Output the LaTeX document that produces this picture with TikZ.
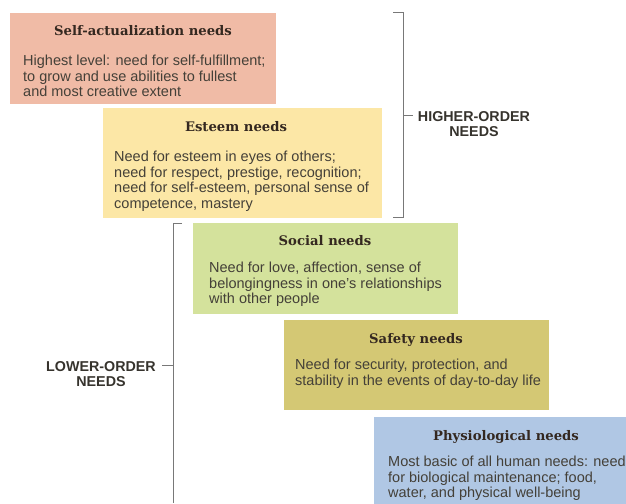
\documentclass[tikz,border=0pt]{standalone}
\usepackage{fontspec}
\setmainfont{Liberation Sans}
\newfontfamily\titlefont{DejaVu Serif}
\definecolor{saColor}{RGB}{240,187,166}
\definecolor{esColor}{RGB}{252,231,166}
\definecolor{soColor}{RGB}{212,226,156}
\definecolor{sfColor}{RGB}{212,200,116}
\definecolor{phColor}{RGB}{176,199,228}
\definecolor{titleInk}{RGB}{52,40,32}
\definecolor{bodyInk}{RGB}{68,64,56}
\definecolor{braceInk}{RGB}{120,120,120}
\tikzset{
  needbox/.style={draw=none, fill=#1, anchor=north west, inner sep=0pt},
  boxtitle/.style={font=\titlefont\bfseries\fontsize{13.2}{15}\selectfont, text=titleInk, inner sep=0pt, anchor=base},
  % multi-line texts are placed by the baseline of their last line
  boxbody/.style={font=\fontsize{14.5}{15.5}\selectfont, text=bodyInk, align=left, inner sep=0pt, anchor=base west},
  groupname/.style={font=\bfseries\fontsize{14.3}{15.5}\selectfont, text=bodyInk!80!black, align=center, inner sep=0pt},
  bracket/.style={draw=braceInk, line width=1pt}
}
\begin{document}
\begin{tikzpicture}[x=1pt,y=-1pt]
\useasboundingbox (0,0) rectangle (626,503);
\clip (0,0) rectangle (626,503);

% need levels
\node[needbox=saColor, minimum width=266pt, minimum height=91pt] (sa) at (10,13) {};
\node[boxtitle] (saT) at (143,35.5) {Self-actualization needs};
\node[boxbody] (saB) at (23,96.5) {Highest level: need for self-fulfillment;\\to grow and use abilities to fullest\\and most creative extent};

\node[needbox=esColor, minimum width=279pt, minimum height=110pt] (es) at (103,108) {};
\node[boxtitle] (esT) at (236,131.5) {Esteem needs};
\node[boxbody] (esB) at (114,208) {Need for esteem in eyes of others;\\need for respect, prestige, recognition;\\need for self-esteem, personal sense of\\competence, mastery};

\node[needbox=soColor, minimum width=265pt, minimum height=91pt] (so) at (193,223) {};
\node[boxtitle] (soT) at (325,245.5) {Social needs};
\node[boxbody] (soB) at (209,303.5) {Need for love, affection, sense of\\belongingness in one's relationships\\with other people};

\node[needbox=sfColor, minimum width=265pt, minimum height=90pt] (sf) at (284,320) {};
\node[boxtitle] (sfT) at (416,343.5) {Safety needs};
\node[boxbody] (sfB) at (295,385) {Need for security, protection, and\\stability in the events of day-to-day life};

\node[needbox=phColor, minimum width=260pt, minimum height=95pt] (ph) at (374,417) {};
\node[boxtitle] (phT) at (506,440.5) {Physiological needs};
\node[boxbody] (phB) at (388,497.5) {Most basic of all human needs: need\\for biological maintenance; food,\\water, and physical well-being};

% group brackets
\coordinate (hiTop) at (393,13);
\coordinate (hiBot) at (393,217);
\coordinate (hiMid) at (403,115);
\draw[bracket] (hiTop) -- (403,13) -- (403,217) -- (hiBot);
\node[groupname, anchor=base] (hi) at (474,136.5) {HIGHER-ORDER\\NEEDS};
\draw[bracket] (hiMid) -- (413,115);

\coordinate (loTop) at (182,223);
\coordinate (loBot) at (173,503);
\coordinate (loMid) at (173,365);
\draw[bracket] (loTop) -- (173,223) -- (loBot);
\node[groupname, anchor=base] (lo) at (101,386.5) {LOWER-ORDER\\NEEDS};
\draw[bracket] (loMid) -- (162,365);
\end{tikzpicture}
\end{document}
